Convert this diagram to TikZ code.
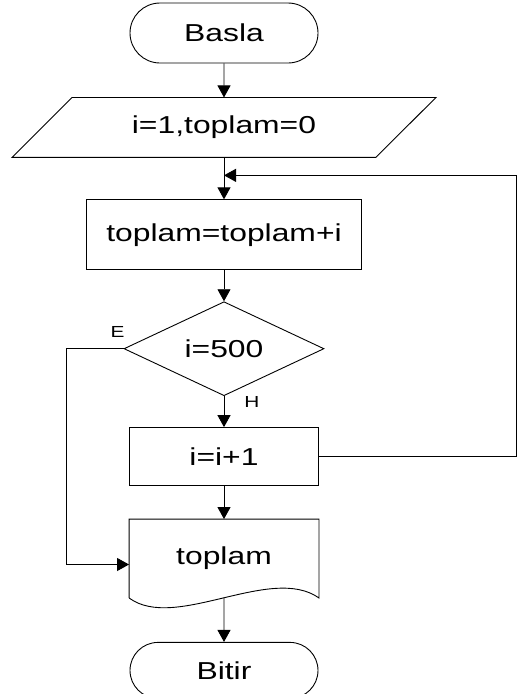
\documentclass[tikz,border=0pt]{standalone}
\usepackage{fontspec}
\setmainfont{Liberation Sans}[FakeStretch=1.3]
\usetikzlibrary{arrows.meta,positioning,shapes.geometric,shapes.misc}
\tikzset{
  term/.style={draw,rounded rectangle,minimum width=188pt,minimum height=60pt,inner sep=0pt},
  proc/.style={draw,rectangle,minimum height=58pt,inner sep=0pt},
  cond/.style={draw,diamond,aspect=2,minimum width=200pt,minimum height=94pt,inner sep=0pt},
  io/.style={rectangle,minimum width=303pt,minimum height=59pt,inner sep=0pt},
  docu/.style={rectangle,minimum width=189pt,minimum height=78pt,inner sep=0pt},
  arr/.style={-{Triangle[length=12pt,width=13pt]},line width=0.9pt},
  lbl/.style={font=\fontsize{16}{19}\selectfont},
}
\begin{document}
\begin{tikzpicture}[x=1pt,y=-1pt,line width=0.9pt,font=\fontsize{24.5}{28}\selectfont]
\useasboundingbox (0,0) rectangle (518,694);
\node[term] (basla) at (224,33) {Basla};
\node[io, below=34pt of basla] (ilk) {i=1,toplam=0};
\draw (ilk.north west) -- ([xshift=60pt]ilk.north east) -- (ilk.south east) -- ([xshift=-60pt]ilk.south west) -- cycle;
\node[proc, minimum width=275pt, minimum height=70pt, below=42pt of ilk] (topla) {toplam=toplam+i};
\node[cond, below=31pt of topla] (kosul) {i=500};
\node[proc, minimum width=189pt, below=31pt of kosul] (artir) {i=i+1};
\node[docu, below=33pt of artir] (yaz) {toplam};
\draw (yaz.south west) -- (yaz.north west) -- (yaz.north east) -- (yaz.south east) .. controls +(-48,-34) and +(46,34) .. (yaz.south west);
\node[term, minimum height=56pt, below=44pt of yaz] (bitir) {Bitir};
\node[lbl] (e) at ([xshift=-6pt,yshift=17pt]kosul.west) {E};
\node[lbl] (h) at ([xshift=28pt,yshift=-6pt]kosul.south) {H};
\coordinate (donus) at ([yshift=-18pt]ilk.south);
\draw[arr] (basla) -- (ilk);
\draw[arr] (ilk) -- (topla);
\draw[arr] (topla) -- (kosul);
\draw[arr] (kosul) -- (artir);
\draw[arr] (artir) -- (yaz);
\draw[arr] (yaz) -- (bitir);
\draw[arr] (artir.east) -- ++(197,0) |- (donus);
\draw[arr] (kosul.west) -- ++(-57,0) |- ([yshift=-6pt]yaz.west);
\end{tikzpicture}
\end{document}
